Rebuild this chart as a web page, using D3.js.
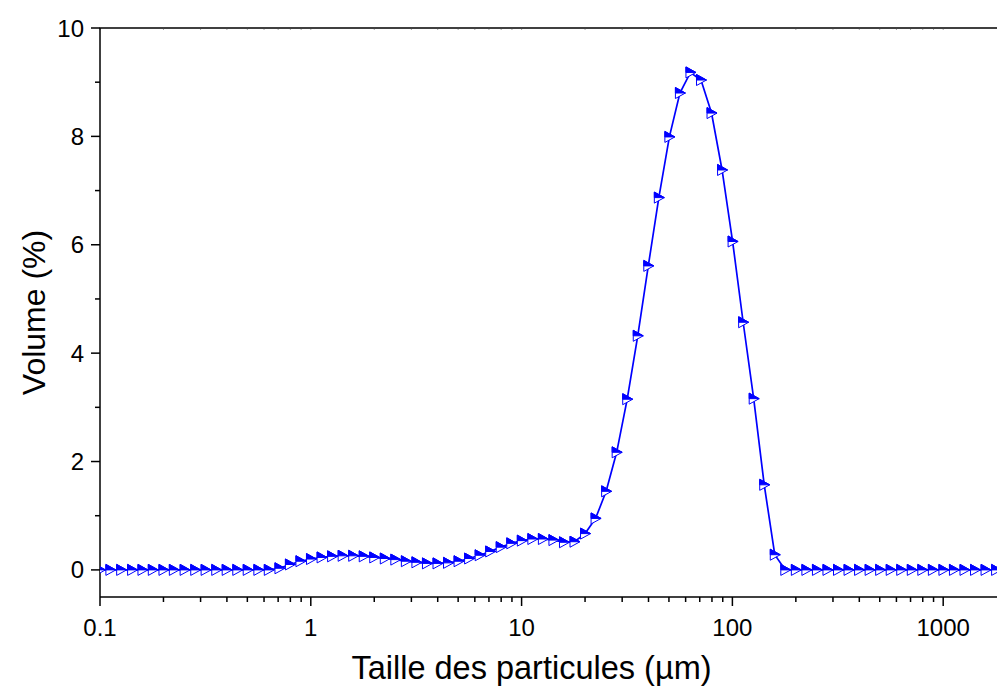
<!DOCTYPE html>
<html><head><meta charset="utf-8">
<script src="https://cdn.jsdelivr.net/npm/d3@7"></script>
<style>body{margin:0;background:#fff}svg{display:block}text{font-family:"Liberation Sans",Arial,sans-serif}</style>
</head><body>
<script>
// Particle size classes (µm)
const sizes = [0.100,0.112,0.126,0.142,0.159,0.178,0.200,0.224,0.252,0.283,0.317,0.356,0.399,0.448,0.502,0.564,0.632,0.710,0.796,0.893,
1.002,1.125,1.262,1.416,1.589,1.783,2.000,2.244,2.518,2.825,3.170,3.557,3.991,4.477,5.024,5.637,6.325,7.096,7.962,8.934,
10.024,11.247,12.619,14.159,15.887,17.825,20.000,22.440,25.179,28.251,31.698,35.566,39.905,44.774,50.238,56.368,63.246,70.963,79.621,89.337,
100.237,112.468,126.191,141.589,158.866,178.250,200.000,224.404,251.785,282.508,316.979,355.656,399.052,447.744,502.377,563.677,632.456,709.627,796.214,893.367,
1002.374,1124.683,1261.915,1415.892,1588.656,1782.502];
// Volume (%)
const volume = [0,0,0,0,0,0,0,0,0,0,0,0,0,0,0,0,0,0.03,0.10,0.16,
0.20,0.23,0.25,0.26,0.26,0.25,0.23,0.21,0.19,0.16,0.14,0.12,0.12,0.13,0.16,0.21,0.27,0.34,0.42,0.49,
0.54,0.57,0.57,0.55,0.51,0.52,0.67,0.95,1.45,2.17,3.15,4.32,5.61,6.87,7.99,8.80,9.18,9.04,8.43,7.38,
6.06,4.57,3.16,1.57,0.28,0,0,0,0,0,0,0,0,0,0,0,0,0,0,0,
0,0,0,0,0,0];
const xTickLabels = ["0.1","1","10","100","1000"];
const xTickValues = [0.1,1,10,100,1000];
const yTickValues = [0,2,4,6,8,10];
const yTickLabels = ["0","2","4","6","8","10"];

const W=997,H=688;
const L=100,R=997,T=28,B=597;
const svg=d3.select("body").append("svg").attr("width",W).attr("height",H);
const x=d3.scaleLog().domain([0.1,1800]).range([L,R]);
const y=d3.scaleLinear().domain([-0.5,10]).range([B,T]);
const blue="#0000ff";

const minorX=[];
for(let e=-1;e<=3;e++){for(let m=2;m<=9;m++){const v=m*Math.pow(10,e); if(v<=1800) minorX.push(v);}}
const minorY=[1,3,5,7,9];

// frame top line
svg.append("line").attr("x1",L).attr("x2",R).attr("y1",T).attr("y2",T).attr("stroke","#000").attr("stroke-width",1.5);
svg.append("g").selectAll("line").data(xTickValues.concat(minorX)).join("line")
  .attr("x1",d=>x(d)).attr("x2",d=>x(d)).attr("y1",T-1).attr("y2",T+1.5).attr("stroke","#444").attr("stroke-width",1);

// bottom axis
const gx=svg.append("g").attr("transform",`translate(0,${B})`);
gx.append("line").attr("x1",L).attr("x2",R).attr("stroke","#000").attr("stroke-width",1.5);
gx.selectAll(".maj").data(xTickValues).join("line").attr("x1",d=>x(d)).attr("x2",d=>x(d)).attr("y1",0).attr("y2",9).attr("stroke","#000").attr("stroke-width",1.5);
gx.selectAll(".min").data(minorX).join("line").attr("x1",d=>x(d)).attr("x2",d=>x(d)).attr("y1",0).attr("y2",5).attr("stroke","#000").attr("stroke-width",1.5);
gx.selectAll("text").data(xTickValues).join("text").attr("x",d=>x(d)).attr("y",39).attr("text-anchor","middle")
  .attr("font-size",24).text((d,i)=>xTickLabels[i]);

// left axis
const gy=svg.append("g").attr("transform",`translate(${L},0)`);
gy.append("line").attr("y1",T).attr("y2",B).attr("stroke","#000").attr("stroke-width",1.5);
gy.selectAll(".maj").data(yTickValues).join("line").attr("y1",d=>y(d)).attr("y2",d=>y(d)).attr("x1",0).attr("x2",-9).attr("stroke","#000").attr("stroke-width",1.5);
gy.selectAll(".min").data(minorY).join("line").attr("y1",d=>y(d)).attr("y2",d=>y(d)).attr("x1",0).attr("x2",-5).attr("stroke","#000").attr("stroke-width",1.5);
gy.selectAll("text").data(yTickValues).join("text").attr("x",-16).attr("y",d=>y(d)+8.5).attr("text-anchor","end")
  .attr("font-size",24).text((d,i)=>yTickLabels[i]);

// titles
svg.append("text").attr("x",(L+R)/2-17).attr("y",679).attr("text-anchor","middle").attr("font-size",32.5).text("Taille des particules (µm)");
svg.append("text").attr("transform",`translate(45,${(T+B)/2})rotate(-90)`).attr("text-anchor","middle").attr("font-size",32).text("Volume (%)");

// data
const data=sizes.map((s,i)=>({s,v:volume[i]}));
svg.append("clipPath").attr("id","c").append("rect").attr("x",L).attr("y",0).attr("width",R-L).attr("height",H);
const plot=svg.append("g").attr("clip-path","url(#c)");
plot.append("path").datum(data).attr("fill","none").attr("stroke",blue).attr("stroke-width",1.7)
  .attr("d",d3.line().x(d=>x(d.s)).y(d=>y(d.v)));
const mk=plot.selectAll(".m").data(data).join("g").attr("transform",d=>`translate(${x(d.s)},${y(d.v)})`);
mk.append("path").attr("d","M-4.5,-5.5L5.5,0L-4.5,5.5Z").attr("fill","#fff").attr("stroke",blue).attr("stroke-width",1);
mk.append("path").attr("d","M-4.5,-5.5L5.5,0L-4.5,0Z").attr("fill",blue).attr("stroke",blue).attr("stroke-width",1);
</script>
</body></html>
